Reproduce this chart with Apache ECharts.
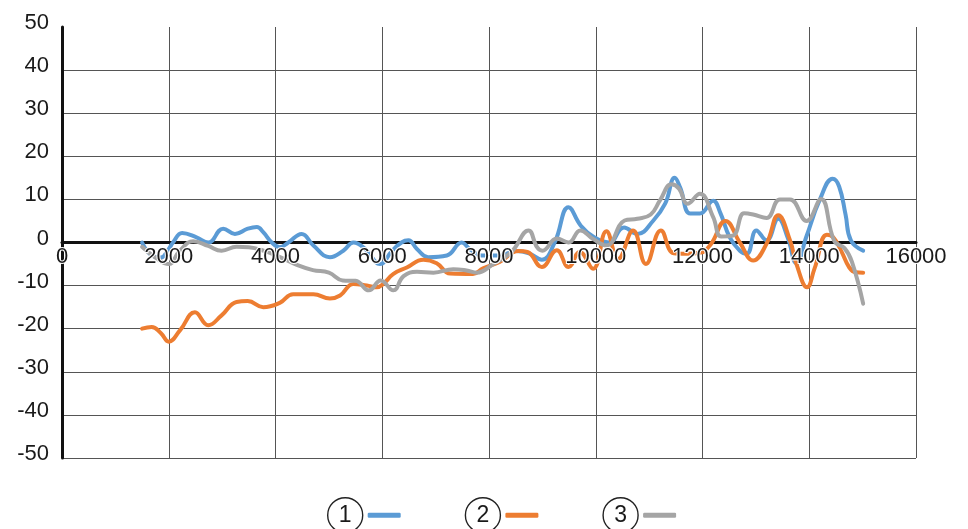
<!DOCTYPE html>
<html>
<head>
<meta charset="utf-8">
<script src="https://cdn.jsdelivr.net/npm/echarts@6/dist/echarts.min.js"></script>
<style>
html,body{margin:0;padding:0;background:#fff;}
#chart{width:968px;height:529px;}
</style>
</head>
<body>
<div id="chart"></div>
<script>
// ---- data ----
const seriesNames = ['1', '2', '3'];
const xTicks = [0, 2000, 4000, 6000, 8000, 10000, 12000, 14000, 16000];
const yTicks = [-50, -40, -30, -20, -10, 0, 10, 20, 30, 40, 50];

const series1 = [[1500,0],[1680,-3],[1850,-3.5],[2000,-1.5],[2080,0],[2250,2.2],[2520,1.2],[2740,0],[3020,3.2],[3240,2],[3480,3.2],[3650,3.6],[3770,2.4],[3930,0],[4080,-1.1],[4240,0],[4490,2],[4710,-0.7],[5020,-3.4],[5270,-1.9],[5460,0],[5680,-1.5],[5960,-5],[6180,-2],[6360,0],[6490,0.5],[6650,-1.5],[6860,-3.4],[7210,-3],[7490,0],[7640,-1.5],[7860,-3],[8200,-3],[8500,-2],[8750,-2.5],[8990,-4],[9230,0],[9490,8.2],[9720,3.9],[9970,1.2],[10250,0],[10530,3.5],[10780,2],[11080,5.1],[11300,9],[11480,15],[11580,12.8],[11770,6.7],[11950,6.7],[12200,9.7],[12330,7],[12510,1.2],[12700,-1.9],[12830,-2.6],[13010,2.8],[13200,0.5],[13420,5.5],[13600,1],[13760,-4.8],[13950,1.5],[14200,10],[14440,14.8],[14560,13],[14680,6.5],[14780,0.5],[15010,-1.9]];

const series2 = [[1500,-20],[1680,-19.6],[1850,-21],[2000,-23],[2210,-20.4],[2490,-16.2],[2740,-19.2],[2990,-16.9],[3270,-13.8],[3480,-13.6],[3770,-15],[4080,-14],[4330,-12],[4710,-12],[5020,-13],[5210,-12.3],[5460,-9.6],[5710,-10],[5900,-10.4],[6020,-9.6],[6210,-7.3],[6460,-5.8],[6770,-4],[7020,-4.8],[7270,-7.2],[7700,-7.3],[7890,-6],[8200,-4.5],[8550,-2],[8720,-2.2],[8990,-5.7],[9270,-1.8],[9490,-5.7],[9700,-2.2],[9950,-6.1],[10200,2.6],[10420,-3.8],[10700,2.8],[10940,-5],[11220,2.8],[11460,-2.5],[11700,-2.6],[11950,-2.4],[12150,-0.5],[12430,5],[12700,0],[12950,-4.2],[13200,-0.3],[13420,6.3],[13640,0.5],[13760,-5],[13960,-10.4],[14100,-6],[14330,1.8],[14450,1.2],[14600,-2],[14750,-5.8],[14870,-6.9],[15010,-7]];

const series3 = [[1500,-1],[1750,-3.5],[2000,-5],[2200,-2],[2460,0.3],[2740,-0.8],[2990,-1.9],[3270,-1],[3500,-1.1],[3800,-2],[4050,-3.2],[4400,-5.2],[4700,-6.4],[5000,-7],[5260,-8.8],[5500,-8.9],[5750,-11.1],[5970,-8.8],[6207,-11.1],[6400,-7.8],[6650,-6.8],[6960,-7],[7330,-6.2],[7580,-6.5],[7770,-7],[8080,-5],[8420,-2.2],[8740,2.8],[8900,-1.1],[9000,-1.9],[9270,0.9],[9490,0],[9710,2.8],[9950,0.8],[10200,-0.7],[10540,5.1],[10780,5.5],[11030,6.5],[11200,9.7],[11420,13.5],[11560,12.5],[11720,9],[11950,11.3],[12200,5.9],[12350,1.4],[12570,1.6],[12780,6.8],[12950,6.5],[13200,5.7],[13450,10],[13640,10],[13950,5],[14220,10.1],[14470,0.3],[14660,-1.3],[14800,-4.5],[15010,-14.2]];

const seriesData = [series1, series2, series3];
const colors = ['#5B9BD5', '#ED7D31', '#A5A5A5'];

// ---- chart ----
const chart = echarts.init(document.getElementById('chart'), null, {renderer: 'canvas'});
const FONT = '"Liberation Sans", Arial, sans-serif';
const xMin = xTicks[0], xMax = xTicks[xTicks.length - 1];
const xStep = xTicks[1] - xTicks[0];
const yMin = yTicks[0], yMax = yTicks[yTicks.length - 1];
const yStep = yTicks[1] - yTicks[0];

const option = {
  animation: false,
  backgroundColor: '#ffffff',
  color: colors,
  grid: {left: 62, right: 52, top: 27, bottom: 71, containLabel: false},
  xAxis: [
    {
      type: 'value', min: xMin, max: xMax, interval: xStep,
      position: 'top',
      axisLine: {show: true, onZero: true, lineStyle: {color: '#111', width: 3}},
      axisTick: {show: false},
      axisLabel: {show: false},
      splitLine: {show: true, lineStyle: {color: '#555', width: 1}}
    },
    {
      type: 'value', min: xMin, max: xMax, interval: xStep,
      position: 'bottom',
      offset: -215.5,
      z: 10,
      axisLine: {show: false, onZero: false},
      axisTick: {show: false},
      splitLine: {show: false},
      axisLabel: {
        show: true, margin: 3, fontSize: 22, color: '#1a1a1a', fontFamily: FONT,
        textBorderColor: '#ffffff', textBorderWidth: 2,
        formatter: v => String(v)
      }
    }
  ],
  yAxis: {
    type: 'value', min: yMin, max: yMax, interval: yStep,
    axisLine: {show: true, onZero: false, lineStyle: {color: '#111', width: 3}},
    axisTick: {show: false},
    splitLine: {show: true, showMaxLine: false, lineStyle: {color: '#555', width: 1}},
    axisLabel: {
      margin: 13, fontSize: 22, color: '#1a1a1a', fontFamily: FONT,
      verticalAlign: 'bottom', lineHeight: 8
    }
  },
  legend: {
    left: 322, top: 492,
    align: 'right',
    itemWidth: 33, itemHeight: 5,
    itemGap: 64,
    icon: 'roundRect',
    data: seriesNames,
    formatter: name => '{c|' + name + '}',
    textStyle: {
      rich: {
        c: {
          width: 35, height: 35, lineHeight: 35,
          borderColor: '#222', borderWidth: 1.4, borderRadius: 19,
          align: 'center', verticalAlign: 'middle',
          fontSize: 23, color: '#1a1a1a', fontFamily: FONT
        }
      }
    }
  },
  series: seriesNames.map((name, i) => ({
    name: name,
    type: 'line',
    xAxisIndex: 0,
    data: seriesData[i],
    smooth: 0.45,
    showSymbol: false,
    symbol: 'none',
    z: 2,
    lineStyle: {color: colors[i], width: 4, cap: 'round', join: 'round'},
    itemStyle: {color: colors[i]}
  }))
};
chart.setOption(option);
</script>
</body>
</html>
